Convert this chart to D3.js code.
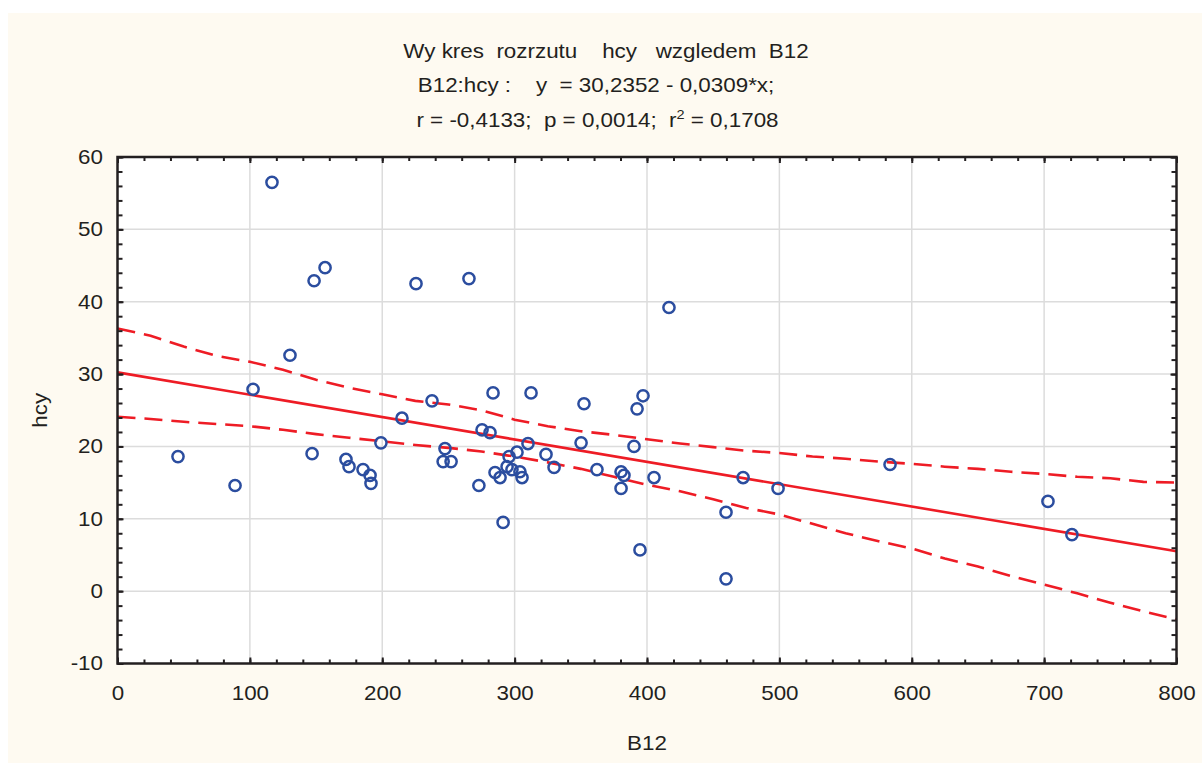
<!DOCTYPE html>
<html lang="pl">
<head>
    <meta charset="UTF-8">
    <title>Wykres rozrzutu hcy wzgledem B12</title>
    <script src="https://d3js.org/d3.v7.min.js"></script>
    <style>
        html, body { margin: 0; padding: 0; background: #fff; }
        body { font-family: "Liberation Sans", Arial, sans-serif; }
        svg text { fill: #231f20; white-space: pre; }
    </style>
</head>
<body>
    <div id="chart"></div>
    <script>
        // data points
        const b12 = [45.7, 88.8, 102.4, 116.7, 130.3, 147, 148.5, 156.8, 172.6, 174.9,
            185.5, 190.8, 191.5, 199, 214.9, 225.5, 237.6, 246, 247.4, 252,
            265.5, 273, 275.4, 281.4, 283.7, 285.2, 289, 291.3, 294.3, 295.8,
            298, 301.8, 304, 305.6, 310.1, 312.4, 323.7, 329.8, 350.2, 352.4,
            362.2, 380.4, 380.4, 382.6, 390.2, 392.5, 394.7, 397, 405.3, 416.6,
            459.7, 459.7, 472.6, 499, 583.6, 702.9, 721];
        const hcy = [18.6, 14.6, 27.9, 56.5, 32.6, 19.0, 42.9, 44.7, 18.2, 17.2,
            16.8, 16.0, 14.9, 20.5, 23.9, 42.5, 26.3, 17.9, 19.7, 17.9,
            43.2, 14.6, 22.3, 21.9, 27.4, 16.4, 15.7, 9.5, 17.2, 18.6,
            16.8, 19.2, 16.5, 15.7, 20.4, 27.4, 18.9, 17.1, 20.5, 25.9,
            16.8, 16.5, 14.2, 16.0, 20.0, 25.2, 5.7, 27.0, 15.7, 39.2,
            10.9, 1.7, 15.7, 14.2, 17.5, 12.4, 7.8];

        // fitted line y = 30,2352 - 0,0309*x, at both ends of the axis
        const fitX = [0, 800];
        const fitY = [30.2352, 5.5152];

        // 95% confidence band
        const bandX = [0, 25, 50, 75, 100, 125, 150, 175, 200, 225, 250, 275, 300, 325, 350, 375,
            400, 425, 450, 475, 500, 525, 550, 575, 600, 625, 650, 675, 700, 725, 750, 775, 800];
        const bandUpper = [36.3, 35.3, 33.8, 32.5, 31.7, 30.6, 29.2, 28.1, 27.2, 26.3, 25.8, 25.0,
            23.7, 22.8, 22.1, 21.6, 21.0, 20.4, 19.9, 19.4, 19.1, 18.6, 18.3, 17.9, 17.6, 17.2,
            16.9, 16.5, 16.2, 15.8, 15.6, 15.1, 15.0];
        const bandLower = [24.1, 23.8, 23.4, 23.1, 22.8, 22.3, 21.7, 21.2, 20.7, 20.2, 19.8, 19.3,
            18.6, 17.8, 16.9, 15.8, 14.7, 13.8, 12.7, 11.5, 10.6, 9.3, 8.0, 6.9, 5.9, 4.5,
            3.4, 2.1, 0.9, -0.3, -1.6, -2.8, -3.9];

        const xTicks = [0, 100, 200, 300, 400, 500, 600, 700, 800];
        const yTicks = [-10, 0, 10, 20, 30, 40, 50, 60];

        const width = 1202, height = 763;
        const pLeft = 117.5, pRight = 1176.5, pTop = 157, pBottom = 663.5;
        const sx = 1.12; // the original text is a little wider than Arial

        const svg = d3.select("#chart").append("svg")
            .attr("width", width)
            .attr("height", height);

        // cream panel
        svg.append("rect")
            .attr("x", 8).attr("y", 13)
            .attr("width", width - 8).attr("height", height - 13)
            .attr("fill", "#fefaf1");

        svg.append("rect")
            .attr("x", pLeft).attr("y", pTop)
            .attr("width", pRight - pLeft).attr("height", pBottom - pTop)
            .attr("fill", "#fff");

        const x = d3.scaleLinear().domain([0, 800]).range([pLeft, pRight]);
        const y = d3.scaleLinear().domain([-10, 60]).range([pBottom, pTop]);

        // grid
        svg.append("g").selectAll("line")
            .data(xTicks.slice(1, -1))
            .join("line")
            .attr("x1", d => x(d)).attr("x2", d => x(d))
            .attr("y1", pTop).attr("y2", pBottom)
            .attr("stroke", "#dcdcdc").attr("stroke-width", 1.5);
        svg.append("g").selectAll("line")
            .data(yTicks.slice(1, -1))
            .join("line")
            .attr("x1", pLeft).attr("x2", pRight)
            .attr("y1", d => y(d)).attr("y2", d => y(d))
            .attr("stroke", "#dcdcdc").attr("stroke-width", 1.5);

        svg.append("clipPath").attr("id", "clip")
            .append("rect")
            .attr("x", pLeft).attr("y", pTop)
            .attr("width", pRight - pLeft).attr("height", pBottom - pTop);

        const plot = svg.append("g").attr("clip-path", "url(#clip)");

        const line = d3.line().x(d => x(d[0])).y(d => y(d[1]));

        plot.append("path")
            .attr("d", line(d3.zip(fitX, fitY)))
            .attr("fill", "none")
            .attr("stroke", "#ee1c25")
            .attr("stroke-width", 2.6);

        [bandUpper, bandLower].forEach(band => {
            plot.append("path")
                .attr("d", line(d3.zip(bandX, band)))
                .attr("fill", "none")
                .attr("stroke", "#ee1c25")
                .attr("stroke-width", 2.6)
                .attr("stroke-dasharray", "18,9");
        });

        plot.append("g").selectAll("circle")
            .data(d3.zip(b12, hcy))
            .join("circle")
            .attr("cx", d => x(d[0]))
            .attr("cy", d => y(d[1]))
            .attr("r", 5.6)
            .attr("fill", "none")
            .attr("stroke", "#2b4d9f")
            .attr("stroke-width", 2.5);

        // axes: ticks point inward on all four sides
        const xMinor = d3.range(0, 801, 20);
        const yMinor = d3.range(-10, 61, 2);

        function styleAxis(g) {
            g.select(".domain").remove();
            g.selectAll(".tick line").attr("stroke", "#231f20").attr("stroke-width", 2);
            g.selectAll("text")
                .attr("font-family", "'Liberation Sans', Arial, sans-serif")
                .attr("font-size", 20)
                .attr("fill", "#231f20");
        }

        svg.append("g").attr("transform", `translate(0,${pBottom})`)
            .call(d3.axisBottom(x).tickValues(xMinor).tickSize(-4).tickFormat(""))
            .call(styleAxis);
        svg.append("g").attr("transform", `translate(0,${pBottom})`)
            .call(d3.axisBottom(x).tickValues(xTicks).tickSize(-6).tickPadding(22).tickFormat(d => String(d)))
            .call(styleAxis)
            .selectAll("text").attr("transform", `scale(${sx},1)`);
        svg.append("g").attr("transform", `translate(0,${pTop})`)
            .call(d3.axisTop(x).tickValues(xMinor).tickSize(-4).tickFormat(""))
            .call(styleAxis);
        svg.append("g").attr("transform", `translate(0,${pTop})`)
            .call(d3.axisTop(x).tickValues(xTicks).tickSize(-6).tickFormat(""))
            .call(styleAxis);

        svg.append("g").attr("transform", `translate(${pLeft},0)`)
            .call(d3.axisLeft(y).tickValues(yMinor).tickSize(-5).tickFormat(""))
            .call(styleAxis);
        svg.append("g").attr("transform", `translate(${pLeft},0)`)
            .call(d3.axisLeft(y).tickValues(yTicks).tickSize(-6).tickPadding(14.5).tickFormat(d => String(d)))
            .call(styleAxis)
            .selectAll("text")
            .attr("x", -14.5 / sx)
            .attr("transform", `scale(${sx},1)`);
        svg.append("g").attr("transform", `translate(${pRight},0)`)
            .call(d3.axisRight(y).tickValues(yMinor).tickSize(-5).tickFormat(""))
            .call(styleAxis);
        svg.append("g").attr("transform", `translate(${pRight},0)`)
            .call(d3.axisRight(y).tickValues(yTicks).tickSize(-6).tickFormat(""))
            .call(styleAxis);

        // frame
        svg.append("rect")
            .attr("x", pLeft).attr("y", pTop)
            .attr("width", pRight - pLeft).attr("height", pBottom - pTop)
            .attr("fill", "none")
            .attr("stroke", "#231f20")
            .attr("stroke-width", 2.5);

        // titles
        function label(cx, cy, txt) {
            return svg.append("text")
                .attr("transform", `translate(${cx},${cy}) scale(${sx},1)`)
                .attr("text-anchor", "middle")
                .attr("font-size", 20)
                .text(txt);
        }
        label(606, 57.5, "Wy kres  rozrzutu    hcy   wzgledem  B12");
        label(596, 92, "B12:hcy :    y  = 30,2352 - 0,0309*x;");
        const l3 = label(597.5, 126.5, null);
        l3.append("tspan").text("r = -0,4133;  p = 0,0014;  r");
        l3.append("tspan").attr("dy", -8).attr("font-size", 13).text("2");
        l3.append("tspan").attr("dy", 8).text(" = 0,1708");

        label(647, 750, "B12");

        svg.append("text")
            .attr("transform", `translate(47,${(pTop + pBottom) / 2}) rotate(-90) scale(${sx},1)`)
            .attr("text-anchor", "middle")
            .attr("font-size", 20)
            .text("hcy");
    </script>
</body>
</html>
